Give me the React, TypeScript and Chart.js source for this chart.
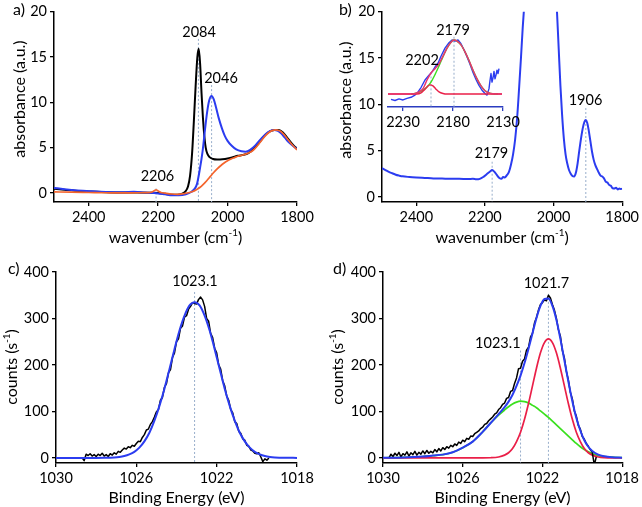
import React, { useEffect, useRef } from "react";
import { Chart, registerables } from "chart.js";
Chart.register(...registerables);

const FONT = "Lato, 'Open Sans', sans-serif";
const TICK_SIZE = 14.5;
const TITLE_SIZE = 16;
const BLUE = "#2b3cf0";
const ORANGE = "#f4642c";
const RED = "#ea1f48";
const GREEN = "#3ae01e";
const PINK = "#e8356e";
const DASH = "#98aecb";

type P = [number, number];

// ---------------- Panel a: IR spectra ----------------
const aBlack: P[] = [[2500,0.45],[2470,0.35],[2440,0.25],[2400,0.15],[2350,0.08],[2300,0.05],[2260,0.05],[2220,0.02],[2200,0.0],[2180,-0.1],[2160,-0.2],[2145,-0.2],[2132,-0.1],[2122,0.15],[2114,0.7],[2108,1.9],[2102,4.5],[2097,8.0],[2092,11.8],[2087,15.0],[2083,15.9],[2079,14.2],[2075,11.0],[2071,8.3],[2067,6.3],[2063,5.0],[2058,4.3],[2052,3.95],[2042,3.75],[2030,3.7],[2015,3.72],[2000,3.8],[1985,3.95],[1970,4.1],[1955,4.2],[1940,4.4],[1925,4.85],[1910,5.5],[1895,6.25],[1880,6.75],[1865,6.95],[1852,6.95],[1840,6.65],[1830,6.2],[1820,5.7],[1810,5.25],[1800,4.9]];
const aBlue: P[] = [[2500,0.55],[2470,0.42],[2440,0.3],[2400,0.2],[2350,0.1],[2300,0.08],[2270,0.12],[2240,0.05],[2200,-0.05],[2180,-0.15],[2160,-0.25],[2140,-0.25],[2120,-0.15],[2105,0.1],[2095,0.45],[2088,1.0],[2080,2.6],[2072,4.6],[2065,7.0],[2059,8.9],[2053,10.2],[2046,10.7],[2040,10.35],[2033,9.4],[2025,8.2],[2016,7.1],[2008,6.3],[2000,5.75],[1988,5.2],[1975,4.8],[1960,4.6],[1948,4.55],[1935,4.75],[1920,5.25],[1905,5.9],[1890,6.5],[1877,6.85],[1866,6.95],[1855,6.85],[1845,6.55],[1835,6.1],[1825,5.65],[1812,5.2],[1800,4.85]];
const aOrange: P[] = [[2500,0.12],[2450,0.08],[2400,0.05],[2350,0.02],[2300,0.0],[2260,0.02],[2230,0.03],[2218,0.1],[2210,0.28],[2206,0.35],[2200,0.22],[2192,0.05],[2180,-0.02],[2160,-0.12],[2145,-0.15],[2125,-0.08],[2110,0.05],[2100,0.15],[2090,0.35],[2080,0.6],[2070,0.95],[2060,1.35],[2050,1.8],[2040,2.25],[2030,2.65],[2020,3.0],[2010,3.3],[2000,3.55],[1990,3.75],[1980,3.9],[1970,4.05],[1960,4.15],[1950,4.25],[1940,4.4],[1930,4.6],[1920,4.95],[1910,5.4],[1900,5.9],[1890,6.35],[1880,6.7],[1870,6.9],[1862,6.95],[1850,6.85],[1840,6.55],[1830,6.1],[1820,5.6],[1810,5.15],[1800,4.75]];
const aTicksX = [2400, 2200, 2000, 1800];
const aTicksY = [0, 5, 10, 15, 20];
const aMarkX = [2206, 2084, 2046];
const aMarkTop = [0.5, 17.0, 11.9];
const aLabels = ["2206", "2084", "2046"];
const aLabelX = [2202, 2082, 2019];
const aLabelY = [1.8, 17.7, 12.7];

// ---------------- Panel b: IR spectrum + inset ----------------
const bBlue: P[] = [[2500,3.1],[2490,2.9],[2480,2.7],[2470,2.55],[2460,2.4],[2450,2.3],[2440,2.22],[2420,2.15],[2400,2.1],[2375,2.05],[2350,2.0],[2325,1.98],[2300,1.95],[2275,1.96],[2250,1.93],[2235,1.95],[2225,1.9],[2215,1.95],[2205,2.15],[2195,2.45],[2185,2.75],[2179,2.9],[2172,2.7],[2165,2.35],[2158,2.05],[2152,1.95],[2147,2.15],[2142,2.1],[2136,2.35],[2130,2.7],[2124,3.5],[2118,4.6],[2112,6.2],[2106,8.6],[2100,12],[2095,15],[2090,18.2],[2085,21],[2080,25],[2070,30],[2050,45],[2020,40],[2000,28],[1995,23.5],[1990,20],[1985,16],[1980,12],[1975,8.8],[1970,6.3],[1965,4.6],[1960,3.6],[1955,2.9],[1950,2.5],[1945,2.25],[1940,2.2],[1935,2.6],[1930,3.6],[1925,5.0],[1920,6.3],[1915,7.4],[1910,8.1],[1906,8.3],[1902,8.0],[1898,7.3],[1893,6.1],[1888,4.9],[1883,4.0],[1878,3.4],[1873,3.0],[1868,2.6],[1863,2.3],[1858,2.2],[1853,2.0],[1848,1.65],[1843,1.55],[1838,1.3],[1833,1.2],[1828,0.95],[1823,0.9],[1818,1.0],[1813,0.8],[1808,0.9],[1803,0.85],[1800,0.9]];
const bMarkX = [2179, 1906];
const bMarkTop = [3.8, 9.6];
const bLabels = ["2179", "1906"];
const bLabelX = [2181, 1907];
const bLabelY = [4.7, 10.4];

const insetBlue: P[] = [[2242,-0.1],[2238,-0.12],[2234,-0.09],[2230,-0.11],[2226,-0.08],[2222,-0.06],[2218,-0.02],[2215,0.04],[2212,0.12],[2208,0.26],[2204,0.35],[2201,0.41],[2198,0.5],[2195,0.57],[2192,0.7],[2188,0.85],[2184,0.95],[2181,1.0],[2178,0.98],[2175,1.0],[2172,0.93],[2169,0.82],[2166,0.69],[2163,0.55],[2160,0.4],[2157,0.27],[2154,0.16],[2151,0.07],[2148,0.01],[2146,-0.02],[2144,0.1],[2143,0.25],[2142,0.38],[2141,0.22],[2140,0.3],[2139,0.42],[2138,0.28],[2137,0.35],[2136,0.44],[2135,0.38],[2134,0.47]];
const insetSum: P[] = [[2245,0],[2222,0],[2218,0.01],[2214,0.04],[2210,0.1],[2206,0.26],[2202,0.39],[2198,0.47],[2194,0.56],[2190,0.7],[2186,0.85],[2182,0.96],[2179,1.0],[2176,0.98],[2172,0.91],[2168,0.78],[2164,0.62],[2160,0.44],[2156,0.28],[2152,0.15],[2148,0.06],[2144,0.02],[2140,0.005],[2131,0]];
const insetMain: P[] = [[2222,0],[2218,0.01],[2214,0.03],[2210,0.07],[2206,0.13],[2202,0.22],[2198,0.36],[2194,0.52],[2190,0.69],[2186,0.85],[2182,0.96],[2179,1.0],[2176,0.98],[2172,0.91],[2168,0.78],[2164,0.62],[2160,0.44],[2156,0.28],[2152,0.15],[2148,0.06],[2144,0.02],[2140,0.005],[2135,0]];
const insetSmall: P[] = [[2245,0],[2216,0],[2212,0.02],[2209,0.07],[2206,0.13],[2203,0.17],[2200,0.15],[2197,0.09],[2194,0.04],[2190,0.01],[2186,0],[2131,0]];
const insetTicksX = [2230, 2180, 2130];
const insetMarkX = [2202, 2179];
const insetMarkTop = [0.4, 1.06];
const insetLabels = ["2202", "2179"];
const insetLabelX = [2211, 2180];
const insetLabelY = [0.63, 1.17];

// ---------------- Panel c: XPS, single component ----------------
const cData: P[] = [[1028.7,0],[1028.6,-6],[1028.5,8],[1028.4,5],[1028.3,9],[1028.2,4],[1028.1,7],[1028.0,3],[1027.9,8],[1027.8,5],[1027.7,10],[1027.6,4],[1027.5,7],[1027.4,3],[1027.3,9],[1027.2,6],[1027.1,11],[1027.0,8],[1026.9,14],[1026.8,12],[1026.7,17],[1026.6,21],[1026.5,19],[1026.4,24],[1026.3,22],[1026.2,27],[1026.1,25],[1026.0,31],[1025.9,36],[1025.8,35],[1025.7,44],[1025.6,50],[1025.5,60],[1025.4,62],[1025.3,72],[1025.2,78],[1025.1,88],[1025.0,99],[1024.9,104],[1024.8,124],[1024.7,130],[1024.6,152],[1024.5,160],[1024.4,183],[1024.3,190],[1024.2,216],[1024.1,226],[1024.0,250],[1023.9,256],[1023.8,279],[1023.7,284],[1023.6,303],[1023.5,306],[1023.4,320],[1023.3,326],[1023.2,334],[1023.1,332],[1023.0,331],[1022.9,341],[1022.8,346],[1022.7,340],[1022.6,326],[1022.5,300],[1022.4,294],[1022.3,268],[1022.2,259],[1022.1,236],[1022.0,226],[1021.9,200],[1021.8,191],[1021.7,166],[1021.6,155],[1021.5,133],[1021.4,124],[1021.3,104],[1021.2,97],[1021.1,78],[1021.0,74],[1020.9,57],[1020.8,53],[1020.7,41],[1020.6,38],[1020.5,27],[1020.4,25],[1020.3,17],[1020.2,15],[1020.1,10],[1020.0,9],[1019.9,11],[1019.8,2],[1019.7,-8],[1019.6,-2],[1019.5,-5],[1019.4,0]];
const cFit: P[] = [[1030,0],[1028,0],[1027.6,0.2],[1027.1,1],[1026.85,2],[1026.6,4],[1026.35,7.5],[1026.1,13],[1025.85,22],[1025.6,35.5],[1025.35,54],[1025.1,80],[1024.85,112],[1024.6,149],[1024.35,191],[1024.1,234],[1023.85,274],[1023.6,306],[1023.35,328],[1023.1,335],[1022.85,328],[1022.6,306],[1022.35,274],[1022.1,234],[1021.85,191],[1021.6,149],[1021.35,112],[1021.1,80],[1020.85,54],[1020.6,35.5],[1020.35,22],[1020.1,13],[1019.85,7.5],[1019.6,4],[1019.35,2],[1019.1,1],[1018.6,0.2],[1018,0]];
const xpsTicksX = [1030, 1026, 1022, 1018];
const xpsTicksY = [0, 100, 200, 300, 400];
const cMarkX = [1023.1];
const cMarkTop = [357];
const cLabels = ["1023.1"];
const cLabelX = [1023.08];
const cLabelY = [381];

// ---------------- Panel d: XPS, two components ----------------
const dData: P[] = [[1029.7,0],[1029.6,8],[1029.5,3],[1029.4,10],[1029.3,5],[1029.2,12],[1029.1,2],[1029.0,9],[1028.9,6],[1028.8,13],[1028.7,4],[1028.6,11],[1028.5,7],[1028.4,14],[1028.3,6],[1028.2,12],[1028.1,8],[1028.0,15],[1027.9,9],[1027.8,16],[1027.7,10],[1027.6,14],[1027.5,11],[1027.4,18],[1027.3,13],[1027.2,20],[1027.1,15],[1027.0,22],[1026.9,18],[1026.8,24],[1026.7,21],[1026.6,27],[1026.5,24],[1026.4,30],[1026.3,27],[1026.2,34],[1026.1,31],[1026.0,38],[1025.9,35],[1025.8,42],[1025.7,40],[1025.6,47],[1025.5,46],[1025.4,52],[1025.3,55],[1025.2,58],[1025.1,63],[1025.0,66],[1024.9,72],[1024.8,74],[1024.7,80],[1024.6,84],[1024.5,88],[1024.4,94],[1024.3,97],[1024.2,104],[1024.1,108],[1024.0,115],[1023.9,118],[1023.8,128],[1023.7,130],[1023.6,143],[1023.5,145],[1023.4,160],[1023.3,172],[1023.2,192],[1023.1,193],[1023.0,208],[1022.9,213],[1022.8,232],[1022.7,238],[1022.6,260],[1022.5,268],[1022.4,290],[1022.3,302],[1022.2,318],[1022.1,330],[1022.0,334],[1021.9,340],[1021.8,338],[1021.7,350],[1021.6,344],[1021.5,330],[1021.4,318],[1021.3,300],[1021.2,276],[1021.1,262],[1021.0,231],[1020.9,215],[1020.8,186],[1020.7,168],[1020.6,141],[1020.5,127],[1020.4,101],[1020.3,90],[1020.2,70],[1020.1,62],[1020.0,46],[1019.9,40],[1019.8,31],[1019.7,25],[1019.6,18],[1019.5,12],[1019.4,-15],[1019.3,2]];
const dSum: P[] = [[1030,0.3],[1029,1],[1028,3],[1027.5,5],[1027,7],[1026.5,12],[1026,22],[1025.5,35],[1025,56],[1024.6,75],[1024.2,94],[1023.9,109],[1023.7,121],[1023.5,136],[1023.3,155],[1023.1,177],[1022.9,204],[1022.7,235],[1022.5,268],[1022.3,301],[1022.1,327],[1021.9,342],[1021.7,343],[1021.5,327],[1021.3,297],[1021.1,256],[1020.9,210],[1020.7,164],[1020.5,122],[1020.3,86],[1020.1,59],[1019.9,38],[1019.7,24],[1019.5,15],[1019.2,7],[1018.9,3.5],[1018.5,1.5],[1018,0.5]];
const dRed: P[] = [[1030,0],[1025,0],[1024.6,0.3],[1024.2,2],[1023.9,6],[1023.7,11],[1023.5,20],[1023.3,35],[1023.1,55],[1022.9,83],[1022.7,117],[1022.5,155],[1022.3,193],[1022.1,226],[1021.9,248],[1021.7,256],[1021.5,248],[1021.3,226],[1021.1,193],[1020.9,155],[1020.7,117],[1020.5,83],[1020.3,55],[1020.1,35],[1019.9,20],[1019.7,11],[1019.5,6],[1019.2,2],[1018.9,0.5],[1018.5,0],[1018,0]];
const dGreen: P[] = [[1030,0.3],[1029,1],[1028,3],[1027.5,5],[1027,7],[1026.5,12],[1026,22],[1025.5,35],[1025,56],[1024.6,75],[1024.2,92],[1023.9,103],[1023.7,110],[1023.5,116],[1023.3,120],[1023.1,122],[1022.9,121],[1022.7,118],[1022.5,113],[1022.3,108],[1022.1,101],[1021.9,94],[1021.7,87],[1021.5,79],[1021.3,71],[1021.1,63],[1020.9,55],[1020.7,47],[1020.5,39],[1020.3,31],[1020.1,24],[1019.9,18],[1019.7,13],[1019.5,9],[1019.2,5],[1018.9,3],[1018.5,1.5],[1018,0.5]];
const dMarkX = [1021.7, 1023.1];
const dMarkTop = [353, 231];
const dLabels = ["1021.7", "1023.1"];
const dLabelX = [1021.8, 1024.24];
const dLabelY = [375, 247];

// ---------------- helpers ----------------
type Seg = { t: string; sup?: boolean };

function drawRich(ctx: CanvasRenderingContext2D, segs: Seg[], x: number, y: number, size: number, rotate: boolean) {
  ctx.save();
  ctx.translate(x, y);
  if (rotate) ctx.rotate(-Math.PI / 2);
  const supSize = size * 0.62;
  const widths = segs.map((s) => {
    ctx.font = `${s.sup ? supSize : size}px ${FONT}`;
    return ctx.measureText(s.t).width;
  });
  const total = widths.reduce((a, b) => a + b, 0);
  let cx = -total / 2;
  ctx.textBaseline = "middle";
  ctx.textAlign = "left";
  ctx.fillStyle = "#000";
  segs.forEach((s, i) => {
    ctx.font = `${s.sup ? supSize : size}px ${FONT}`;
    ctx.fillText(s.t, cx, s.sup ? -size * 0.33 : 0);
    cx += widths[i];
  });
  ctx.restore();
}

const toXY = (d: P[]) => d.map(([x, y]) => ({ x, y }));

function line(d: P[], color: string, width: number, smooth: boolean) {
  return {
    data: toXY(d),
    borderColor: color,
    borderWidth: width,
    pointRadius: 0,
    fill: false,
    tension: 0,
    cubicInterpolationMode: smooth ? "monotone" : "default",
    borderJoinStyle: "round",
  };
}

function markers(xs: number[], tops: number[], bottom: number) {
  return xs.map((x, i) => ({
    data: [{ x, y: tops[i] }, { x, y: bottom }],
    borderColor: DASH,
    borderWidth: 1,
    borderDash: [2, 2],
    pointRadius: 0,
    fill: false,
  }));
}

type Spec = {
  left: number; top: number; w: number; h: number;
  area: { left: number; top: number; right: number; bottom: number };
  xMin: number; xMax: number; yMin: number; yMax: number;
  xTicks: number[]; yTicks: number[] | null;
  datasets: any[];
  labels: string[]; labelX: number[]; labelY: number[];
  letter?: { t: string; x: number; y: number };
  xTitle?: { segs: Seg[]; y: number };
  yTitle?: { segs: Seg[]; x: number; y: number };
  axisColor?: string;
};

function decoPlugin(p: Spec) {
  return {
    id: "deco",
    afterDatasetsDraw(chart: any) {
      const ctx: CanvasRenderingContext2D = chart.ctx;
      const xs = chart.scales.x;
      const ys = chart.scales.y;
      ctx.save();
      ctx.fillStyle = "#000";
      ctx.textAlign = "center";
      ctx.textBaseline = "middle";
      ctx.font = `${TICK_SIZE}px ${FONT}`;
      p.labels.forEach((t, i) => {
        ctx.fillText(t, xs.getPixelForValue(p.labelX[i]), ys.getPixelForValue(p.labelY[i]));
      });
      if (p.letter) {
        ctx.textAlign = "left";
        ctx.font = `${TITLE_SIZE}px ${FONT}`;
        ctx.fillText(p.letter.t, p.letter.x, p.letter.y);
      }
      ctx.restore();
      const ca = chart.chartArea;
      if (p.xTitle) drawRich(ctx, p.xTitle.segs, (ca.left + ca.right) / 2, p.xTitle.y, TITLE_SIZE, false);
      if (p.yTitle) drawRich(ctx, p.yTitle.segs, p.yTitle.x, p.yTitle.y, TITLE_SIZE, true);
    },
  };
}

function makeConfig(p: Spec): any {
  const ac = p.axisColor || "#000";
  const axisCommon = {
    grid: { drawOnChartArea: false, drawTicks: true, tickLength: 4, color: ac, lineWidth: 1.3 },
    border: { display: true, color: ac, width: 1.5 },
  };
  const tickFont = { family: FONT, size: TICK_SIZE };
  return {
    type: "line",
    data: { datasets: p.datasets },
    options: {
      responsive: false,
      animation: false,
      devicePixelRatio: 1,
      events: [],
      layout: { padding: { left: p.yTicks ? 0 : p.area.left, top: p.area.top, right: p.w - p.area.right, bottom: 0 } },
      plugins: { legend: { display: false }, tooltip: { enabled: false }, title: { display: false } },
      scales: {
        x: {
          type: "linear",
          reverse: true,
          min: p.xMin,
          max: p.xMax,
          ...axisCommon,
          ticks: { font: tickFont, color: "#000", padding: 3, maxRotation: 0, autoSkip: false, callback: (v: any) => String(v) },
          afterBuildTicks: (s: any) => { s.ticks = p.xTicks.map((v) => ({ value: v })); },
          afterFit: (s: any) => { s.height = p.h - p.area.bottom; },
        },
        y: p.yTicks
          ? {
              type: "linear",
              min: p.yMin,
              max: p.yMax,
              ...axisCommon,
              ticks: { font: tickFont, color: "#000", padding: 3, autoSkip: false, callback: (v: any) => String(v) },
              afterBuildTicks: (s: any) => { s.ticks = (p.yTicks as number[]).map((v) => ({ value: v })); },
              afterFit: (s: any) => { s.width = p.area.left; },
            }
          : { type: "linear", min: p.yMin, max: p.yMax, display: false },
      },
    },
    plugins: [decoPlugin(p)],
  };
}

const xpsXTitle: Seg[] = [{ t: "Binding Energy (eV)" }];
const xpsYTitle: Seg[] = [{ t: "counts (s" }, { t: "-1", sup: true }, { t: ")" }];
const irXTitle: Seg[] = [{ t: "wavenumber (cm" }, { t: "-1", sup: true }, { t: ")" }];
const irYTitle: Seg[] = [{ t: "absorbance (a.u.)" }];

const PANELS: Spec[] = [
  {
    left: 0, top: 0, w: 321, h: 254,
    area: { left: 54, top: 11, right: 297, bottom: 202 },
    xMin: 1800, xMax: 2500, yMin: -1, yMax: 20,
    xTicks: aTicksX, yTicks: aTicksY,
    datasets: [
      line(aOrange, ORANGE, 1.7, true),
      line(aBlue, BLUE, 2, true),
      line(aBlack, "#000", 2, true),
      ...markers(aMarkX, aMarkTop, -1),
    ],
    labels: aLabels, labelX: aLabelX, labelY: aLabelY,
    letter: { t: "a)", x: 13, y: 10 },
    xTitle: { segs: irXTitle, y: 238 },
    yTitle: { segs: irYTitle, x: 20, y: 99 },
  },
  {
    left: 321, top: 0, w: 321, h: 254,
    area: { left: 61, top: 11, right: 303, bottom: 202 },
    xMin: 1800, xMax: 2500, yMin: -0.55, yMax: 20,
    xTicks: aTicksX, yTicks: aTicksY,
    datasets: [line(bBlue, BLUE, 2, true), ...markers(bMarkX, bMarkTop, -0.55)],
    labels: bLabels, labelX: bLabelX, labelY: bLabelY,
    letter: { t: "b)", x: 18, y: 10 },
    xTitle: { segs: irXTitle, y: 238 },
    yTitle: { segs: irYTitle, x: 25, y: 100 },
  },
  {
    left: 321, top: 0, w: 321, h: 254,
    area: { left: 67, top: 20, right: 182, bottom: 107 },
    xMin: 2130, xMax: 2245, yMin: -0.24, yMax: 1.37,
    xTicks: insetTicksX, yTicks: null,
    datasets: [
      line(insetSum, PINK, 1.5, true),
      line(insetSmall, RED, 1.4, true),
      line(insetMain, GREEN, 1.4, true),
      line(insetBlue, BLUE, 1.4, false),
      ...markers(insetMarkX, insetMarkTop, -0.24),
    ],
    labels: insetLabels, labelX: insetLabelX, labelY: insetLabelY,
    axisColor: "#2b3cc0",
  },
  {
    left: 0, top: 254, w: 321, h: 253,
    area: { left: 56, top: 18, right: 297, bottom: 209 },
    xMin: 1018, xMax: 1030, yMin: -11, yMax: 400,
    xTicks: xpsTicksX, yTicks: xpsTicksY,
    datasets: [line(cFit, BLUE, 2, true), line(cData, "#000", 1.5, false), ...markers(cMarkX, cMarkTop, -11)],
    labels: cLabels, labelX: cLabelX, labelY: cLabelY,
    letter: { t: "c)", x: 8, y: 15 },
    xTitle: { segs: xpsXTitle, y: 244 },
    yTitle: { segs: xpsYTitle, x: 12, y: 113 },
  },
  {
    left: 321, top: 254, w: 321, h: 253,
    area: { left: 62, top: 18, right: 303, bottom: 209 },
    xMin: 1018, xMax: 1030, yMin: -11, yMax: 400,
    xTicks: xpsTicksX, yTicks: xpsTicksY,
    datasets: [
      line(dSum, BLUE, 2, true),
      line(dData, "#000", 1.5, false),
      line(dRed, RED, 1.7, true),
      line(dGreen, GREEN, 1.7, true),
      ...markers(dMarkX, dMarkTop, -11),
    ],
    labels: dLabels, labelX: dLabelX, labelY: dLabelY,
    letter: { t: "d)", x: 12, y: 15 },
    xTitle: { segs: xpsXTitle, y: 244 },
    yTitle: { segs: xpsYTitle, x: 17, y: 113 },
  },
];

export default function App() {
  const refs = useRef<(HTMLCanvasElement | null)[]>([]);
  useEffect(() => {
    const charts = PANELS.map((p, i) => new Chart(refs.current[i] as HTMLCanvasElement, makeConfig(p)));
    return () => charts.forEach((c) => c.destroy());
  }, []);
  return (
    <div style={{ position: "absolute", left: 0, top: 0, width: 642, height: 507, background: "#fff" }}>
      {PANELS.map((p, i) => (
        <canvas
          key={i}
          ref={(el) => { refs.current[i] = el; }}
          width={p.w}
          height={p.h}
          style={{ position: "absolute", left: p.left, top: p.top, width: p.w, height: p.h }}
        />
      ))}
    </div>
  );
}
